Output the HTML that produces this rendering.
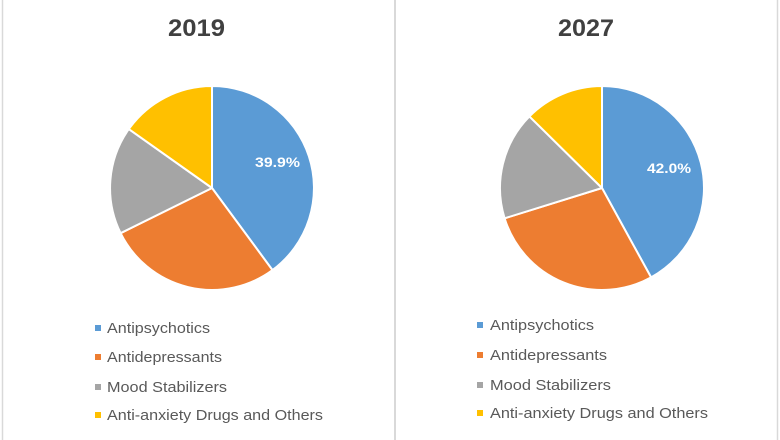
<!DOCTYPE html>
<html><head><meta charset="utf-8"><style>
html,body{margin:0;padding:0;background:#fff;}
svg{display:block;}
</style></head><body>
<svg width="780" height="440" viewBox="0 0 780 440" xmlns="http://www.w3.org/2000/svg">
<rect width="780" height="440" fill="#fff"/>
<line x1="2.5" y1="0" x2="2.5" y2="440" stroke="#d9d9d9" stroke-width="1.5"/>
<line x1="395" y1="0" x2="395" y2="440" stroke="#d9d9d9" stroke-width="2"/>
<line x1="777.5" y1="0" x2="777.5" y2="440" stroke="#d9d9d9" stroke-width="1.5"/>

<g font-family="'Liberation Sans', sans-serif">
<text x="168" y="36" font-size="24" font-weight="bold" fill="#404040" textLength="57" lengthAdjust="spacingAndGlyphs">2019</text>
<text x="558" y="36" font-size="24" font-weight="bold" fill="#404040" textLength="56" lengthAdjust="spacingAndGlyphs">2027</text>
</g>

<g stroke="#fff" stroke-width="2" stroke-linejoin="round">
<path d="M212,188 L212,86 A102,102 0 0 1 272.5,270.1 Z" fill="#5B9BD5"/>
<path d="M212,188 L272.5,270.1 A102,102 0 0 1 120.6,233.2 Z" fill="#ED7D31"/>
<path d="M212,188 L120.6,233.2 A102,102 0 0 1 128.8,129.1 Z" fill="#A5A5A5"/>
<path d="M212,188 L128.8,129.1 A102,102 0 0 1 212,86 Z" fill="#FFC000"/>

<path d="M602,188 L602,86 A102,102 0 0 1 651.1,277.4 Z" fill="#5B9BD5"/>
<path d="M602,188 L651.1,277.4 A102,102 0 0 1 504.6,218.3 Z" fill="#ED7D31"/>
<path d="M602,188 L504.6,218.3 A102,102 0 0 1 529.4,116.4 Z" fill="#A5A5A5"/>
<path d="M602,188 L529.4,116.4 A102,102 0 0 1 602,86 Z" fill="#FFC000"/>
</g>

<g font-family="'Liberation Sans', sans-serif" font-weight="bold" font-size="14" fill="#fff">
<text x="255" y="167" textLength="45" lengthAdjust="spacingAndGlyphs">39.9%</text>
<text x="647" y="173" textLength="44" lengthAdjust="spacingAndGlyphs">42.0%</text>
</g>

<g font-family="'Liberation Sans', sans-serif" font-size="15" fill="#595959">
<rect x="95" y="325" width="6" height="6" fill="#5B9BD5"/>
<text x="107" y="333" textLength="103" lengthAdjust="spacingAndGlyphs">Antipsychotics</text>
<rect x="95" y="354" width="6" height="6" fill="#ED7D31"/>
<text x="107" y="362" textLength="115" lengthAdjust="spacingAndGlyphs">Antidepressants</text>
<rect x="95" y="384" width="6" height="6" fill="#A5A5A5"/>
<text x="107" y="392" textLength="120" lengthAdjust="spacingAndGlyphs">Mood Stabilizers</text>
<rect x="95" y="412" width="6" height="6" fill="#FFC000"/>
<text x="107" y="420" textLength="216" lengthAdjust="spacingAndGlyphs">Anti-anxiety Drugs and Others</text>

<rect x="477" y="322" width="6" height="6" fill="#5B9BD5"/>
<text x="490" y="330" textLength="104" lengthAdjust="spacingAndGlyphs">Antipsychotics</text>
<rect x="477" y="352" width="6" height="6" fill="#ED7D31"/>
<text x="490" y="360" textLength="117" lengthAdjust="spacingAndGlyphs">Antidepressants</text>
<rect x="477" y="382" width="6" height="6" fill="#A5A5A5"/>
<text x="490" y="390" textLength="121" lengthAdjust="spacingAndGlyphs">Mood Stabilizers</text>
<rect x="477" y="410" width="6" height="6" fill="#FFC000"/>
<text x="490" y="418" textLength="218" lengthAdjust="spacingAndGlyphs">Anti-anxiety Drugs and Others</text>
</g>
</svg>
</body></html>
